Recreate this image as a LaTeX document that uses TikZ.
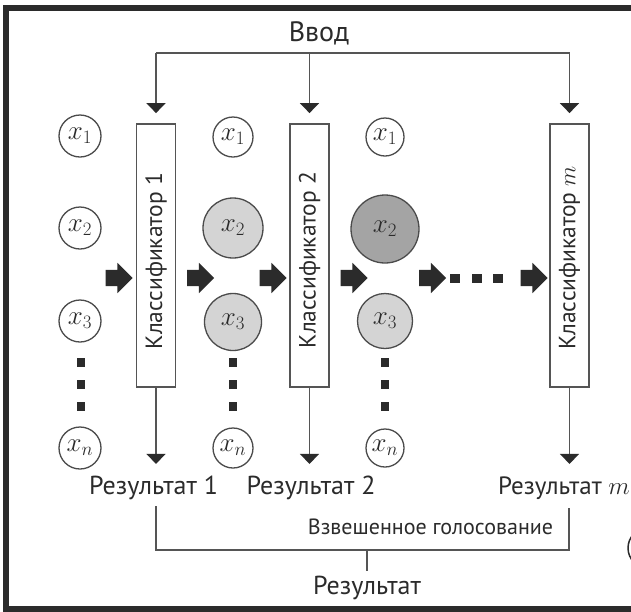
\RequirePackage{fix-cm}
\documentclass[tikz,border=0pt]{standalone}
\usepackage{fontspec}
\setmainfont{PT Sans}
\usetikzlibrary{arrows.meta,shapes.arrows}
\definecolor{ln}{HTML}{555555}
\definecolor{dk}{HTML}{2B2B2B}
\definecolor{lg}{HTML}{D4D4D4}
\definecolor{mg}{HTML}{A4A4A4}
\begin{document}
\begin{tikzpicture}[x=1pt,y=-1pt,
  txt/.style={font=\fontsize{26}{30}\selectfont, text=dk, inner sep=0},
  cls/.style={draw=ln, line width=1.8pt, fill=white, minimum width=39pt, minimum height=263pt, inner sep=0},
  clstxt/.style={rotate=90, inner sep=0, text=dk, font=\fontsize{23.5}{28}\selectfont},
  feat/.style={circle, draw=dk!85, line width=1.3pt, inner sep=0, text=dk, font=\fontsize{27}{31}\selectfont},
  conn/.style={draw=ln, line width=1.5pt},
  tip/.style={-{Triangle[width=19pt,length=10pt,color=dk]}},
  blk/.style={single arrow, fill=dk, inner xsep=0pt, inner ysep=8pt, minimum height=27pt, single arrow head extend=7pt},
  vdot/.style={fill=dk, minimum width=8pt, minimum height=9pt, inner sep=0},
  hdot/.style={fill=dk, minimum width=10pt, minimum height=9pt, inner sep=0}
]
\useasboundingbox (0,0) rectangle (631,611);
\fill[white] (0,0) rectangle (631,611);
% frame
\draw[dk, line width=6pt] (640,8) -- (6,8) -- (6,608.5) -- (640,608.5);
\draw[dk, line width=1.5pt] (648,548) circle (20);

% input
\node[txt, font=\fontsize{28}{32}\selectfont] (in) at (319,33) {Ввод};
\node[cls] (c1) at (156,255.5) {};
\node[cls] (c2) at (309.5,255.5) {};
\node[cls] (cm) at (569.5,255.5) {};
\node[clstxt] (t1) at (156,261) {Классификатор 1};
\node[clstxt] (t2) at (309.5,260) {Классификатор 2};
\node[clstxt] (tm) at (569.5,258) {Классификатор $m$};

\coordinate (bus) at (0,53);
\draw[conn] (c1.north |- bus) -- (cm.north |- bus);
\draw[conn,tip] (c1.north |- bus) -- ([yshift=10pt]c1.north);
\draw[conn,tip] (c2.north |- bus) -- ([yshift=10pt]c2.north);
\draw[conn,tip] (cm.north |- bus) -- ([yshift=10pt]cm.north);

% outputs
\draw[conn,tip] (c1.south) -- ([yshift=-76pt]c1.south);
\draw[conn,tip] (c2.south) -- ([yshift=-76pt]c2.south);
\draw[conn,tip] (cm.south) -- ([yshift=-76pt]cm.south);

\node[txt] (r1) at (153.5,488) {Результат 1};
\node[txt] (r2) at (311,488) {Результат 2};
\node[txt, font=\fontsize{25}{29}\selectfont, anchor=east] (rm) at (630,488) {Результат $m$};

\coordinate (b1) at (156,506);
\coordinate (bm) at (569,508);
\coordinate (base) at (0,550);
\draw[conn] (b1) -- (b1 |- base) -- (bm |- base) -- (bm);
\node[txt, font=\fontsize{22}{26}\selectfont] (wv) at (430.5,527) {Взвешенное голосование};
\node[txt] (res) at (367,588) {Результат};
\coordinate (st) at (367,571);
\draw[conn] (st |- base) -- (st);

% column 1
\node[feat, minimum size=42pt] (a1) at (80,136) {$x_1$};
\node[feat, minimum size=42pt] (a2) at (80,228) {$x_2$};
\node[feat, minimum size=42pt] (a3) at (80,321) {$x_3$};
\node[feat, minimum size=42pt] (an) at (80,448) {$x_n$};
% column 2
\node[feat, minimum size=40pt] (b1n) at (233,137) {$x_1$};
\node[feat, minimum size=60pt, fill=lg] (b2n) at (233,228) {$x_2$};
\node[feat, minimum size=57pt, fill=lg] (b3n) at (233,322) {$x_3$};
\node[feat, minimum size=40pt] (bnn) at (233,448) {$x_n$};
% column 3
\node[feat, minimum size=38pt] (c1n) at (385,137) {$x_1$};
\node[feat, minimum size=68pt, fill=mg] (c2n) at (385,229) {$x_2$};
\node[feat, minimum size=55pt, fill=lg] (c3n) at (385,321) {$x_3$};
\node[feat, minimum size=38pt] (cnn) at (385,448) {$x_n$};

% vertical dots
\foreach \x/\n in {80.5/p, 233/q, 385/r}{
  \node[vdot] (\n1) at (\x,362) {};
  \node[vdot] (\n2) at (\x,384) {};
  \node[vdot] (\n3) at (\x,406) {};
}

% block arrows
\node[blk] (ar1) at (115,278) {};
\node[blk] (ar2) at (196.5,278) {};
\node[blk] (ar3) at (269,278) {};
\node[blk] (ar4) at (350,278) {};
\node[blk] (ar5) at (428.5,278) {};
\node[hdot] (d1) at (455,278) {};
\node[hdot] (d2) at (477,278) {};
\node[hdot] (d3) at (498,278) {};
\node[blk] (ar6) at (530,278) {};
\end{tikzpicture}
\end{document}
